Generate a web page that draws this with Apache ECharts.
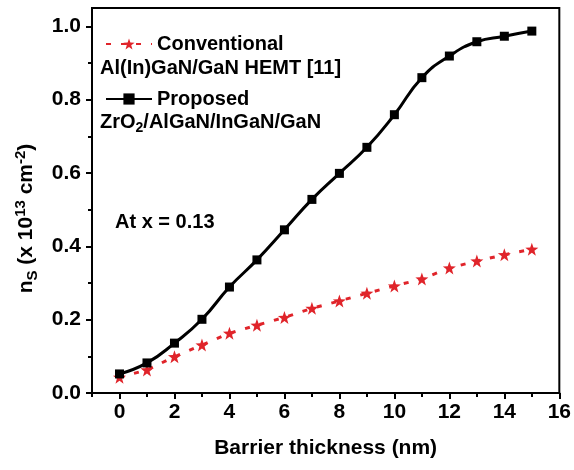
<!DOCTYPE html>
<html>
<head>
<meta charset="utf-8">
<script src="https://cdn.jsdelivr.net/npm/echarts@6/dist/echarts.min.js"></script>
<style>
  html, body { margin: 0; padding: 0; background: #fff; }
  #main { width: 574px; height: 470px; }
</style>
</head>
<body>
<div id="main"></div>
<script>
// 数据
var thickness = [0, 1, 2, 3, 4, 5, 6, 7, 8, 9, 10, 11, 12, 13, 14, 15];
var conventional = [0.043, 0.063, 0.099, 0.131, 0.163, 0.185, 0.206, 0.231, 0.251, 0.272, 0.292, 0.311, 0.341, 0.360, 0.377, 0.392];
var proposed = [0.052, 0.082, 0.136, 0.201, 0.289, 0.363, 0.445, 0.528, 0.599, 0.670, 0.759, 0.860, 0.919, 0.958, 0.973, 0.987];
var xTicks = [0, 2, 4, 6, 8, 10, 12, 14, 16];
var xMinorTicks = [-1, 1, 3, 5, 7, 9, 11, 13, 15];
var yTicks = [0, 0.2, 0.4, 0.6, 0.8, 1.0];
var yMinorTicks = [0.1, 0.3, 0.5, 0.7, 0.9];

var FONT = 'Liberation Sans';
var RED = '#e0242a';

function pairs(xs, ys) {
    var out = [];
    for (var i = 0; i < xs.length; i++) out.push([xs[i], ys[i]]);
    return out;
}

var myChart = echarts.init(document.getElementById('main'));

var option = {
    animation: false,
    backgroundColor: '#fff',
    grid: {
        left: 92, top: 8, right: 14, bottom: 77,
        show: true, borderColor: '#000', borderWidth: 2
    },
    legend: [
        {
            data: ['Conventional'], left: 100, top: 29, itemWidth: 46, itemHeight: 14, itemGap: 6,
            textStyle: { fontFamily: FONT, fontWeight: 'bold', fontSize: 20, color: '#000' }
        },
        {
            data: ['Proposed'], left: 100, top: 84, itemWidth: 46, itemHeight: 14, itemGap: 6,
            textStyle: { fontFamily: FONT, fontWeight: 'bold', fontSize: 20, color: '#000' }
        }
    ],
    graphic: [
        {
            type: 'text', left: 100, top: 58,
            style: { text: 'Al(In)GaN/GaN HEMT [11]', font: 'bold 20px "Liberation Sans"', fill: '#000' }
        },
        {
            type: 'text', left: 100, top: 112,
            style: {
                text: 'ZrO{sub|2}/AlGaN/InGaN/GaN', font: 'bold 20px "Liberation Sans"', fill: '#000',
                rich: { sub: { fontSize: 14, fontWeight: 'bold', fontFamily: FONT, padding: [12, 0, 0, 0] } }
            }
        },
        {
            type: 'text', left: 115, top: 212,
            style: { text: 'At x = 0.13', font: 'bold 20px "Liberation Sans"', fill: '#000' }
        }
    ],
    xAxis: [
        {
            type: 'value', min: -1, max: 16,
            name: 'Barrier thickness (nm)', nameLocation: 'middle', nameGap: 45,
            nameTextStyle: { fontFamily: FONT, fontWeight: 'bold', fontSize: 21, color: '#000' },
            axisLine: { show: true, onZero: false, lineStyle: { color: '#000', width: 2 } },
            axisTick: { show: true, inside: false, length: 6, lineStyle: { color: '#000', width: 2 }, customValues: xTicks },
            axisLabel: {
                margin: 9, customValues: xTicks,
                fontFamily: FONT, fontWeight: 'bold', fontSize: 21, color: '#000'
            },
            splitLine: { show: false }
        },
        {
            type: 'value', min: -1, max: 16, position: 'bottom',
            axisLine: { show: false, onZero: false },
            axisTick: { show: true, inside: false, length: 4, lineStyle: { color: '#000', width: 2 }, customValues: xMinorTicks },
            axisLabel: { show: false },
            splitLine: { show: false }
        }
    ],
    yAxis: [
        {
            type: 'value', min: 0, max: 1.05,
            name: 'n{sub|S} (x 10{sup|13} cm{sup|-2})', nameLocation: 'middle', nameGap: 52, nameRotate: 90,
            nameTextStyle: {
                fontFamily: FONT, fontWeight: 'bold', fontSize: 21, color: '#000',
                padding: [0, 36, 0, 0],
                rich: {
                    sub: { fontFamily: FONT, fontWeight: 'bold', fontSize: 15, padding: [12, 0, 0, 0] },
                    sup: { fontFamily: FONT, fontWeight: 'bold', fontSize: 15, padding: [0, 0, 12, 0] }
                }
            },
            axisLine: { show: true, onZero: false, lineStyle: { color: '#000', width: 2 } },
            axisTick: { show: true, inside: false, length: 6, lineStyle: { color: '#000', width: 2 }, customValues: yTicks },
            axisLabel: {
                margin: 11, customValues: yTicks,
                fontFamily: FONT, fontWeight: 'bold', fontSize: 21, color: '#000',
                formatter: function (v) { return v.toFixed(1); }
            },
            splitLine: { show: false }
        },
        {
            type: 'value', min: 0, max: 1.05, position: 'left',
            axisLine: { show: false, onZero: false },
            axisTick: { show: true, inside: false, length: 4, lineStyle: { color: '#000', width: 2 }, customValues: yMinorTicks },
            axisLabel: { show: false },
            splitLine: { show: false }
        }
    ],
    series: [
        {
            name: 'Conventional', type: 'line',
            data: pairs(thickness, conventional),
            symbol: 'path://M0,-10L2.35,-3.24L9.51,-3.09L3.8,1.24L5.88,8.09L0,4L-5.88,8.09L-3.8,1.24L-9.51,-3.09L-2.35,-3.24Z',
            symbolSize: 13,
            itemStyle: { color: RED },
            lineStyle: { color: RED, width: 3, type: [5, 10] },
            z: 2
        },
        {
            name: 'Proposed', type: 'line', smooth: 0.5,
            data: pairs(thickness, proposed),
            symbol: 'rect', symbolSize: 9,
            itemStyle: { color: '#000' },
            lineStyle: { color: '#000', width: 3 },
            z: 3
        }
    ]
};

myChart.setOption(option);
</script>
</body>
</html>
